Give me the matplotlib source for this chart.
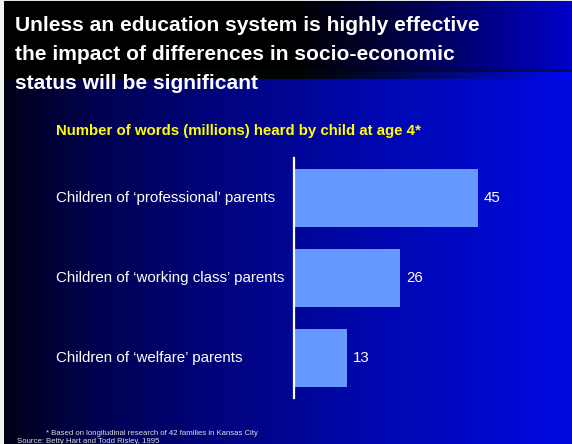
import numpy as np
import matplotlib
matplotlib.use('Agg')
import matplotlib.pyplot as plt

plt.rcParams['font.family'] = ['Liberation Sans', 'DejaVu Sans']

W, H = 572, 444

categories = ["Children of \u2018professional\u2019 parents",
              "Children of \u2018working class\u2019 parents",
              "Children of \u2018welfare\u2019 parents"]
words_millions = [45, 26, 13]

title = ("Unless an education system is highly effective\n"
         "the impact of differences in socio-economic\n"
         "status will be significant")
subtitle = "Number of words (millions) heard by child at age 4*"
footnote = "* Based on longitudinal research of 42 families in Kansas City"
source = "Source: Betty Hart and Todd Risley, 1995"

fig = plt.figure(figsize=(W / 100, H / 100), dpi=100)

# background: dark on the left fading to bright blue on the right
bg = fig.add_axes([0, 0, 1, 1])
xs = np.linspace(0, 1, W)
blue_top = np.clip((xs - 0.5) / 0.5, 0, 1) ** 1.2 * 0.8
blue_low = 0.04 + 0.84 * xs ** 0.65
img = np.zeros((H, W, 3))
top_rows = 70
img[:top_rows, :, 2] = blue_top
img[top_rows:, :, 2] = blue_low
img[top_rows:, :, 1] = 0.04 * xs
# lighter band under the title
img[top_rows + 3:top_rows + 10, :, 2] = np.clip(blue_top * 1.2, 0, 1)
img[top_rows:top_rows + 3, :, 2] = blue_top * 0.5
img[:2, :, :] = 0.9
img[:, :4, :] = 0.95
img = np.clip(img, 0, 1)
bg.imshow(img, extent=[0, W, H, 0], aspect='auto')
bg.set_xlim(0, W)
bg.set_ylim(H, 0)
bg.axis('off')

ax = fig.add_axes([294 / W, 1 - 398 / H, 266 / W, 240 / H])
ax.patch.set_alpha(0)
y = np.arange(len(categories))
ax.barh(y, words_millions, height=0.73, color='#6699FF', left=0)
ax.set_xlim(0, 65)
ax.set_ylim(2.5, -0.5)
for yi, v in zip(y, words_millions):
    ax.text(v + 1.4, yi, str(v), color='white', fontsize=10.8, va='center', ha='left')
for s in ['top', 'right', 'bottom']:
    ax.spines[s].set_visible(False)
ax.spines['left'].set_color('white')
ax.spines['left'].set_linewidth(1.6)
ax.set_xticks([])
ax.set_yticks([])
for yi, c in zip(y, categories):
    ax.annotate(c, xy=(0, yi), xycoords=('axes fraction', 'data'),
                xytext=(56, 0), textcoords=('figure pixels', 'offset points'),
                color='white', fontsize=10.9, va='center', ha='left')

fig.text(15 / W, 1 - 54.5 / H, title, color='white', fontsize=15.1, fontweight='bold',
         va='center', ha='left', linespacing=1.68)
fig.text(56 / W, 1 - 131 / H, subtitle, color='#FFFF00', fontsize=10.8,
         fontweight='bold', va='center', ha='left')
fig.text(46 / W, 1 - 433 / H, footnote, color='#DDDDDD', fontsize=5.6,
         va='center', ha='left')
fig.text(17 / W, 1 - 441 / H, source, color='#DDDDDD', fontsize=5.6,
         va='center', ha='left')

fig.savefig('out.png', dpi=100)
